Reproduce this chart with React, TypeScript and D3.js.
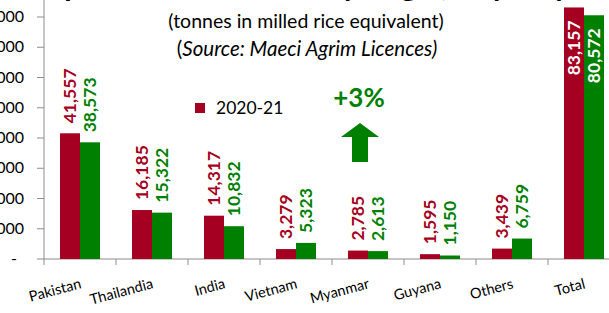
import React from 'react'
import * as d3 from 'd3'

const categories = ['Pakistan', 'Thailandia', 'India', 'Vietnam', 'Myanmar', 'Guyana', 'Others', 'Total']
const red2020 = [41557, 16185, 14317, 3279, 2785, 1595, 3439, 83157]
const green2019 = [38573, 15322, 10832, 5323, 2613, 1150, 6759, 80572]
const yTicks = [0, 10000, 20000, 30000, 40000, 50000, 60000, 70000, 80000]

const RED = '#a50021'
const GREEN = '#008000'
const FONT = 'Lato, "Noto Sans", sans-serif'

const W = 609
const H = 313

export default function App() {
  const x0 = d3.scaleBand<string>().domain(categories).range([44, 620])
  const y = d3.scaleLinear().domain([0, 80000]).range([259, 17])
  const barW = 20
  const fmt = (v: number) => (v === 0 ? '-' : d3.format(',')(v))

  const series = [
    { values: red2020, color: RED, dx: -barW },
    { values: green2019, color: GREEN, dx: 0 },
  ]

  return (
    <svg width={W} height={H} style={{ position: 'absolute', left: 0, top: 0, background: '#fff' }} fontFamily={FONT}>
      {/* title, mostly off the top */}
      <text x={300} y={-4} textAnchor="middle" fontSize={30} fontWeight={700} fill="#000">
        Import of rice into EU by origin, July-July
      </text>
      <text x={306} y={28} textAnchor="middle" fontSize={19.5} fill="#000">
        (tonnes in milled rice equivalent)
      </text>
      <text x={307} y={56} textAnchor="middle" fontSize={20.5} fill="#000">
        (<tspan fontStyle="italic">Source: Maeci Agrim Licences)</tspan>
      </text>

      {/* y axis */}
      <line x1={44} x2={44} y1={0} y2={259} stroke="#8c8c8c" />
      {yTicks.map((t) => (
        <g key={t}>
          <line x1={37} x2={44} y1={y(t)} y2={y(t)} stroke="#8c8c8c" />
          <text x={t === 0 ? 17 : 24} y={y(t) + 5} textAnchor="end" fontSize={16} fill="#000">
            {fmt(t)}
          </text>
        </g>
      ))}

      {/* x axis */}
      <line x1={44} x2={620} y1={259} y2={259} stroke="#8c8c8c" />
      {categories.map((c) => (
        <line key={c} x1={x0(c)!} x2={x0(c)!} y1={259} y2={265} stroke="#8c8c8c" />
      ))}
      {categories.map((c) => {
        const cx = x0(c)! + x0.bandwidth() / 2 + 2
        return (
          <text key={c} transform={`translate(${cx},288) rotate(-15)`} textAnchor="end" fontSize={14.5} fill="#000">
            {c}
          </text>
        )
      })}

      {/* bars */}
      {series.map((s, si) =>
        categories.map((c, i) => {
          const cx = x0(c)! + x0.bandwidth() / 2
          const bx = cx + s.dx
          const top = y(s.values[i])
          const isTotal = c === 'Total'
          const lx = bx + barW / 2 + 6
          const ly = isTotal ? top + 13 : top - 10
          return (
            <g key={`${si}-${c}`}>
              <rect x={bx} y={top} width={barW} height={259 - top} fill={s.color} />
              <text
                transform={`translate(${lx},${ly}) rotate(-90)`}
                textAnchor={isTotal ? 'end' : 'start'}
                fontSize={17.5}
                fontWeight={700}
                fill={isTotal ? '#fff' : s.color}
              >
                {fmt(s.values[i])}
              </text>
            </g>
          )
        })
      )}

      {/* legend */}
      <rect x={195} y={103} width={10} height={10} fill={RED} />
      <text x={216} y={114} fontSize={17.5} fill="#000">2020-21</text>

      {/* change annotation */}
      <text x={359} y={107} textAnchor="middle" fontSize={26} fontWeight={700} fill={GREEN}>+3%</text>
      <path d="M360,123 L379,137 L368,137 L368,162 L352,162 L352,137 L341,137 Z" fill={GREEN} />
    </svg>
  )
}
